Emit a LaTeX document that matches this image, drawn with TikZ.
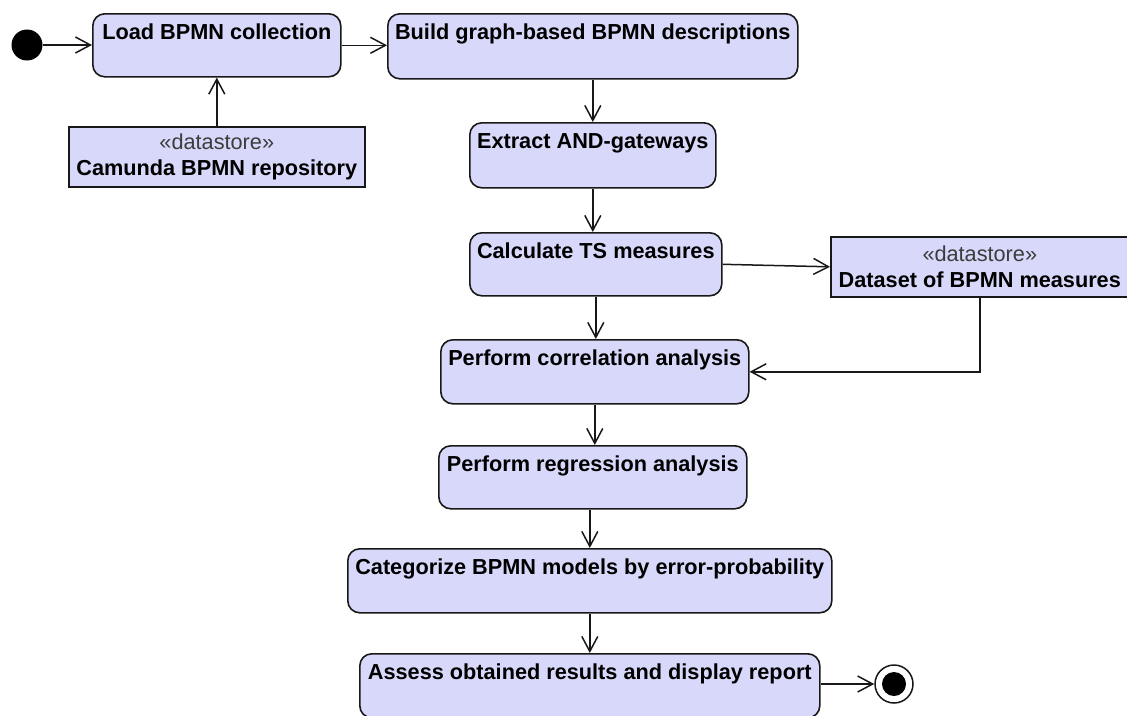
\documentclass[tikz,border=0pt]{standalone}
\usepackage{fontspec}
\setmainfont{Liberation Sans}
\usetikzlibrary{arrows.meta,calc}
\definecolor{actfill}{RGB}{216,216,250}
\definecolor{linec}{RGB}{24,24,24}
\definecolor{stereo}{RGB}{60,60,60}
\tikzset{
 act/.style={draw=linec, fill=actfill, line width=1.6pt, rounded corners=12pt, anchor=north west,
   inner xsep=0pt, inner ysep=0pt, text height=26pt, font=\fontsize{21.7}{26}\selectfont\bfseries},
 store/.style={draw=linec, fill=actfill, line width=1.6pt, anchor=north west, inner sep=0pt,
   align=center, font=\fontsize{21.7}{26.5}\selectfont},
 flow/.style={draw=linec, line width=1.5pt, -{Straight Barb[length=15pt,width=16pt,line width=1.5pt]}},
}
\begin{document}
\begin{tikzpicture}[x=1pt,y=-1pt]
\useasboundingbox (0,0) rectangle (1127,715);
% initial node
\node[circle, fill=black, minimum size=31pt, inner sep=0pt] (start) at (27,45) {};
% activities
\node[act, minimum width=248pt, text depth=37pt] (load) at (92,13) {Load BPMN collection};
\node[act, minimum width=410pt, text depth=39pt] (build) at (387,13) {Build graph-based BPMN descriptions};
\node[act, minimum width=246pt, text depth=39pt] (extract) at (469,122) {Extract AND-gateways};
\node[act, minimum width=252pt, text depth=37pt] (calc) at (469,232) {Calculate TS measures};
\node[act, minimum width=308pt, text depth=38pt] (corr) at (440,339) {Perform correlation analysis};
\node[act, minimum width=308pt, text depth=37pt] (regr) at (438,445) {Perform regression analysis};
\node[act, minimum width=484pt, text depth=38pt] (cat) at (347,548) {Categorize BPMN models by error-probability};
\node[act, minimum width=460pt, text depth=38pt] (assess) at (359,653) {Assess obtained results and display report};
% datastores
\node[store, minimum width=296pt, minimum height=60pt] (camunda) at (68,126)
  {{\color{stereo}«datastore»}\\\textbf{Camunda BPMN repository}};
\node[store, minimum width=298pt, minimum height=60pt] (dataset) at (830,236)
  {{\color{stereo}«datastore»}\\\textbf{Dataset of BPMN measures}};
% final node
\node[circle, draw=linec, fill=white, line width=1.5pt, minimum size=38pt, inner sep=0pt] (final) at (894,684) {};
\node[circle, fill=black, minimum size=24pt, inner sep=0pt] (finaldot) at (final.center) {};
% flows
\draw[flow] (start) -- (start -| load.west);
\draw[flow] (load.east) -- (load.east -| build.west);
\draw[flow] (camunda.north) -- (camunda.north |- load.south);
\draw[flow] (build.south -| extract.north) -- (extract.north);
\draw[flow] (extract.south) -- (extract.south |- calc.north);
\draw[flow] (calc.east) -- (dataset.west);
\draw[flow] (calc.south) -- (calc.south |- corr.north);
\draw[flow] (dataset.south) |- (corr.east);
\draw[flow] (corr.south) -- (corr.south |- regr.north);
\draw[flow] (regr.south -| cat.north) -- (cat.north);
\draw[flow] (cat.south -| assess.north) -- (assess.north);
\draw[flow] (assess.east |- final.west) -- (final.west);
\end{tikzpicture}
\end{document}
